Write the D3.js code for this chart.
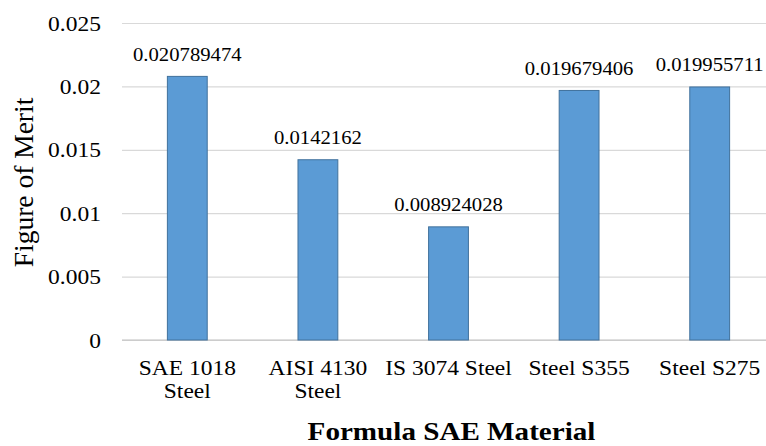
<!DOCTYPE html>
<html>
<head>
<meta charset="utf-8">
<script src="https://cdn.jsdelivr.net/npm/d3@7"></script>
<style>
  html, body { margin: 0; padding: 0; background: #fff; }
  svg { display: block; }
</style>
</head>
<body>
<svg id="chart" width="766" height="446"></svg>
<script>
// Figure of merit for each candidate chassis material
const categories = ["SAE 1018 Steel", "AISI 4130 Steel", "IS 3074 Steel", "Steel S355", "Steel S275"];
const merit = [0.020789474, 0.0142162, 0.008924028, 0.019679406, 0.019955711];
const meritLabels = ["0.020789474", "0.0142162", "0.008924028", "0.019679406", "0.019955711"];
const yTicks = [0, 0.005, 0.01, 0.015, 0.02, 0.025];
const yTickLabels = ["0", "0.005", "0.01", "0.015", "0.02", "0.025"];

const serif = "'Liberation Serif', 'Times New Roman', serif";
const svg = d3.select("#chart").attr("font-family", serif);
const plot = { left: 122, right: 775, top: 23, bottom: 340 };
const sx = 1.12; // horizontal stretch applied to the text glyphs

const x = d3.scaleBand().domain(categories).range([plot.left, plot.right]).paddingInner(0.695).paddingOuter(0.3475);
const y = d3.scaleLinear().domain([0, 0.025]).range([plot.bottom, plot.top]);

// Gridlines and value ticks
const yAxis = d3.axisLeft(y)
  .tickValues(yTicks)
  .tickSize(-(plot.right - plot.left))
  .tickFormat((d, i) => yTickLabels[i]);
const gy = svg.append("g").attr("transform", `translate(${plot.left},0)`).call(yAxis)
  .attr("font-family", serif).attr("font-size", 21);
gy.select(".domain").remove();
gy.selectAll(".tick line").attr("stroke", "#D9D9D9").attr("stroke-width", 1.2);
gy.selectAll(".tick text")
  .attr("x", -21 / sx)
  .attr("dy", "0.34em")
  .attr("fill", "#000")
  .attr("transform", `scale(${sx},1)`);

// Category axis
const xAxis = d3.axisBottom(x).tickSize(0).tickPadding(0);
const gx = svg.append("g").attr("transform", `translate(0,${plot.bottom})`).call(xAxis)
  .attr("font-family", serif).attr("font-size", 21);
gx.select(".domain").attr("stroke", "#BFBFBF").attr("stroke-width", 1.2)
  .attr("d", `M${plot.left},0H${plot.right}`);
gx.selectAll(".tick text").each(function (d) {
  const t = d3.select(this);
  t.text(null)
    .attr("fill", "#000")
    .attr("transform", `scale(${sx},1)`)
    .attr("y", 0).attr("dy", null);
  // wrap onto two lines when the name is wider than its band
  const probe = t.append("tspan").text(d);
  const fits = probe.node().getComputedTextLength() * sx <= x.step() * 0.98;
  probe.remove();
  const cut = d.lastIndexOf(" ");
  const lines = fits ? [d] : [d.slice(0, cut), d.slice(cut + 1)];
  lines.forEach((ln, i) => {
    t.append("tspan").attr("x", 0).attr("y", 35 + i * 23.5).text(ln);
  });
});

// Bars
svg.append("g").selectAll("rect")
  .data(categories)
  .join("rect")
  .attr("x", d => x(d))
  .attr("y", (d, i) => y(merit[i]))
  .attr("width", x.bandwidth())
  .attr("height", (d, i) => y(0) - y(merit[i]))
  .attr("fill", "#5B9BD5")
  .attr("stroke", "#41719C")
  .attr("stroke-width", 1);

// Value labels above bars
svg.append("g").attr("font-size", 18.5).selectAll("text")
  .data(categories)
  .join("text")
  .attr("transform", (d, i) => `translate(${x(d) + x.bandwidth() / 2},${y(merit[i]) - 15.5}) scale(${sx},1)`)
  .attr("text-anchor", "middle")
  .attr("fill", "#000")
  .text((d, i) => meritLabels[i]);

// Axis titles
svg.append("text")
  .attr("transform", `translate(${(plot.left + plot.right) / 2 + 3},440) scale(${sx},1)`)
  .attr("text-anchor", "middle")
  .attr("font-size", 26)
  .attr("font-weight", "bold")
  .attr("fill", "#000")
  .text("Formula SAE Material");

svg.append("text")
  .attr("transform", `translate(33,${(plot.top + plot.bottom) / 2 + 1}) rotate(-90)`)
  .attr("text-anchor", "middle")
  .attr("font-size", 27.5)
  .attr("fill", "#000")
  .text("Figure of Merit");
</script>
</body>
</html>
